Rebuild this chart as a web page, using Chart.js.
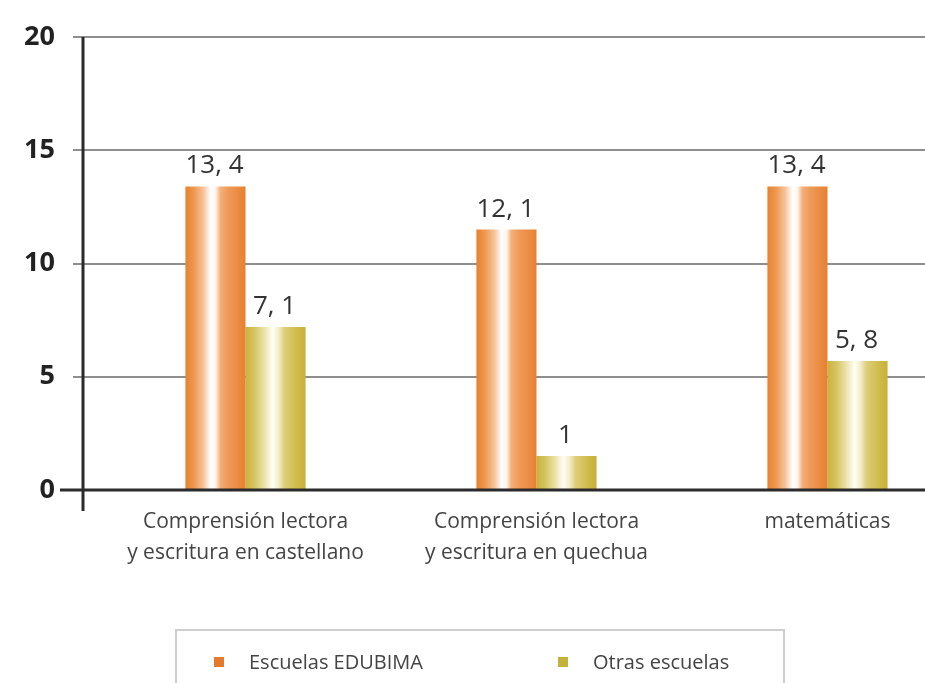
<!DOCTYPE html>
<html lang="es">
<head>
<meta charset="utf-8">
<script src="https://cdn.jsdelivr.net/npm/chart.js@4/dist/chart.umd.min.js"></script>
<style>
  html, body { margin: 0; padding: 0; background: #fff; overflow: hidden; }
  #wrap { position: relative; width: 925px; height: 683px; overflow: hidden; }
  #chart-box { position: absolute; left: 0; top: 0; width: 980px; height: 683px; }
  #legend {
    position: absolute; left: 175px; top: 629px; width: 606px; height: 70px;
    border: 2px solid #cfcfcf; font-family: "Open Sans", sans-serif; font-size: 20px; color: #444;
  }
  #legend span.item { position: absolute; top: 17px; white-space: nowrap; }
  #legend i { display: inline-block; width: 10px; height: 10px; margin-right: 25px; vertical-align: 2px; }
</style>
</head>
<body>
<div id="wrap">
  <div id="chart-box"><canvas id="bar-chart" width="980" height="683"></canvas></div>
  <div id="legend"></div>
</div>
<script>
// Chart data
const categories = [
    ['Comprensión lectora', 'y escritura en castellano'],
    ['Comprensión lectora', 'y escritura en quechua'],
    'matemáticas'
];
const seriesNames = ['Escuelas EDUBIMA', 'Otras escuelas'];
const edubimaValues = [13.4, 11.5, 13.4];
const otrasValues = [7.2, 1.5, 5.7];
const edubimaLabels = ['13, 4', '12, 1', '13, 4'];
const otrasLabels = ['7, 1', '1', '5, 8'];
const yTicks = [0, 5, 10, 15, 20];

const CAT_PCT = 0.413;
const solidColors = ['#e47a2c', '#c4b13c'];

// horizontal "cylinder" gradient stops per series
const gradStops = [
    [[0, '#e8812e'], [0.15, '#ee9a55'], [0.3, '#f7c49b'], [0.42, '#ffffff'], [0.5, '#fff6ee'],
     [0.58, '#f4b07c'], [0.7, '#ef9b5a'], [0.85, '#eb8e47'], [1, '#e8802d']],
    [[0, '#c9b23c'], [0.15, '#d6c462'], [0.3, '#eae0a5'], [0.45, '#fffff5'], [0.55, '#f3edc9'],
     [0.65, '#ddcd78'], [0.85, '#d0bc4c'], [1, '#c8b038']]
];

/**
 * Build a gradient spanning one bar, using the x scale position of its category
 */
function barFill(ctx) {
    const chart = ctx.chart;
    const xs = chart.scales.x;
    if (!xs || !chart.chartArea || ctx.dataIndex === undefined) {
        return solidColors[ctx.datasetIndex];
    }
    const catW = xs.width / categories.length;
    const barW = catW * CAT_PCT / 2;
    const center = xs.getPixelForValue(ctx.dataIndex);
    const x0 = ctx.datasetIndex === 0 ? center - barW : center;
    const g = chart.ctx.createLinearGradient(x0, 0, x0 + barW, 0);
    gradStops[ctx.datasetIndex].forEach(s => g.addColorStop(s[0], s[1]));
    return g;
}

// value labels above bars + custom axis lines
const decorPlugin = {
    id: 'decor',
    afterDatasetsDraw(chart) {
        const c = chart.ctx;
        const area = chart.chartArea;
        const texts = [edubimaLabels, otrasLabels];
        c.save();
        c.font = '26px "Open Sans", sans-serif';
        c.fillStyle = '#333';
        c.textAlign = 'center';
        c.textBaseline = 'alphabetic';
        chart.data.datasets.forEach((ds, di) => {
            chart.getDatasetMeta(di).data.forEach((bar, i) => {
                c.fillText(texts[di][i], bar.x - 1, bar.y - 13);
            });
        });
        // axes
        const yZero = chart.scales.y.getPixelForValue(0);
        const yTop = chart.scales.y.getPixelForValue(20);
        c.strokeStyle = '#2b2b2b';
        c.lineWidth = 3;
        c.beginPath();
        c.moveTo(area.left - 17, yTop);
        c.lineTo(area.left - 17, yZero + 21);
        c.moveTo(area.left - 40, yZero);
        c.lineTo(area.right, yZero);
        c.stroke();
        c.restore();
    }
};

const ctx = document.getElementById('bar-chart').getContext('2d');
const chart = new Chart(ctx, {
    type: 'bar',
    data: {
        labels: categories,
        datasets: [
            { label: seriesNames[0], data: edubimaValues, backgroundColor: barFill },
            { label: seriesNames[1], data: otrasValues, backgroundColor: barFill }
        ]
    },
    options: {
        responsive: false,
        animation: false,
        events: [],
        categoryPercentage: CAT_PCT,
        barPercentage: 1.0,
        layout: { padding: { top: 37, right: 7, bottom: 43, left: 0 } },
        plugins: {
            legend: { display: false },
            tooltip: { enabled: false }
        },
        scales: {
            x: {
                offset: true,
                grid: { display: false, drawTicks: false },
                border: { display: false },
                ticks: {
                    color: '#444',
                    padding: 17,
                    maxRotation: 0,
                    font: { family: '"Open Sans", sans-serif', size: 21, lineHeight: 1.45 }
                },
                afterFit: s => { s.height = 150; }
            },
            y: {
                min: 0,
                max: 20,
                afterBuildTicks: s => { s.ticks = yTicks.map(v => ({ value: v })); },
                grid: { color: '#8e8e8e', lineWidth: 2, tickLength: 27 },
                border: { display: false },
                ticks: {
                    color: '#222',
                    padding: 18,
                    font: { family: '"Open Sans", sans-serif', size: 27, weight: 'bold' }
                },
                afterFit: s => { s.width = 100; }
            }
        }
    },
    plugins: [decorPlugin]
});

// legend built from the dataset names
const legend = document.getElementById('legend');
const legendX = [37, 381];
seriesNames.forEach((name, i) => {
    const item = document.createElement('span');
    item.className = 'item';
    item.style.left = legendX[i] + 'px';
    item.innerHTML = '<i style="background:' + solidColors[i] + '"></i>' + name;
    legend.appendChild(item);
});
</script>
</body>
</html>
